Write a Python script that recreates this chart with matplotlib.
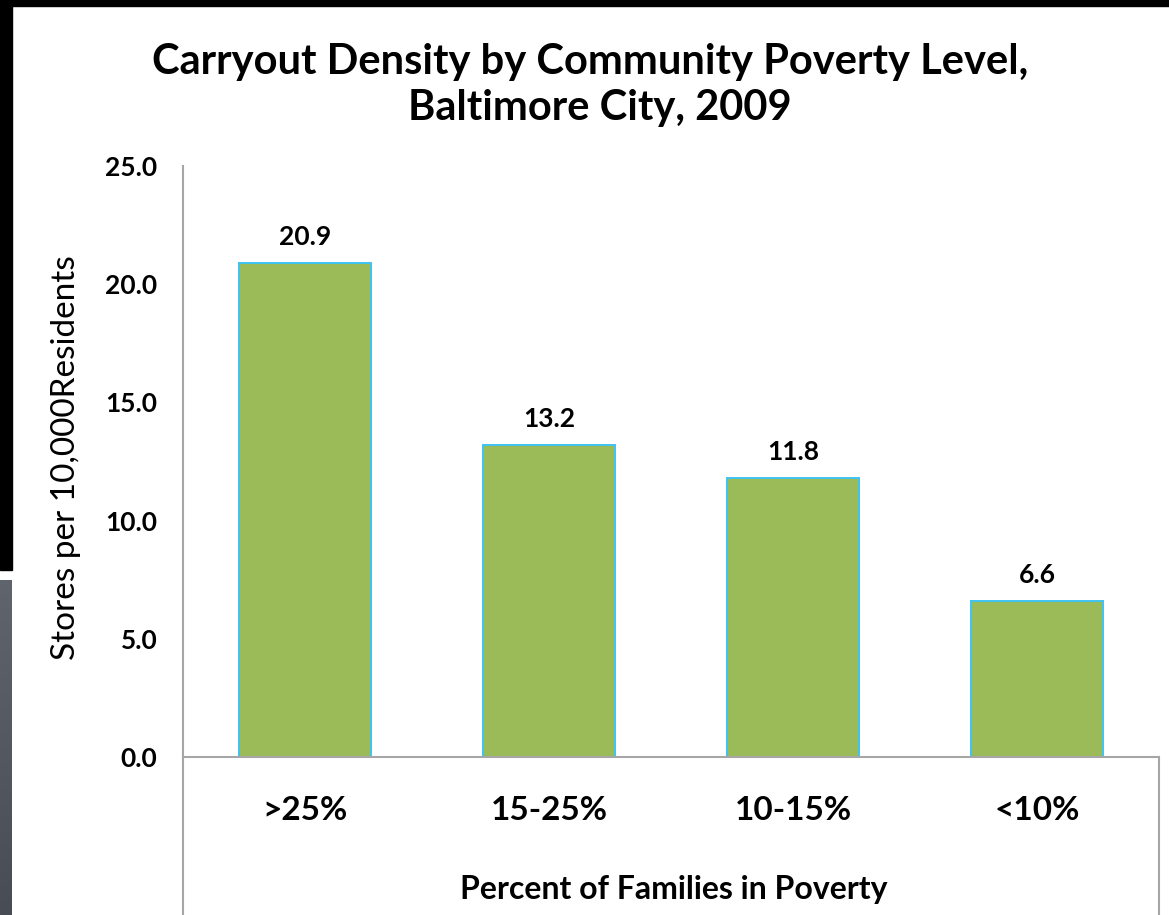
import numpy as np
import matplotlib
matplotlib.use("Agg")
import matplotlib.pyplot as plt
from matplotlib.patches import Rectangle
from matplotlib.lines import Line2D
from matplotlib.colors import LinearSegmentedColormap

categories = [">25%", "15-25%", "10-15%", "<10%"]
stores_per_10k = [20.9, 13.2, 11.8, 6.6]
y_ticks = [0.0, 5.0, 10.0, 15.0, 20.0, 25.0]

W, H = 1169, 915
fig = plt.figure(figsize=(W / 100, H / 100), dpi=100)
plt.rcParams["font.family"] = ["Lato", "DejaVu Sans"]


def fx(px):
    return px / W


def fy(py):
    return 1 - py / H


# slide frame: black bands and gray strip
fig.patches.append(Rectangle((0, fy(6)), 1, 6 / H, transform=fig.transFigure,
                             color="black", zorder=0))
fig.patches.append(Rectangle((0, fy(570)), fx(12), 570 / H, transform=fig.transFigure,
                             color="black", zorder=0))
gax = fig.add_axes([0, 0, fx(12), fy(580)])
grad = np.linspace(0, 1, 256).reshape(-1, 1)
cmap = LinearSegmentedColormap.from_list("strip", ["#5f646d", "#474c55"])
gax.imshow(grad, aspect="auto", cmap=cmap, extent=[0, 1, 0, 1], origin="upper")
gax.axis("off")

left, right, top, zero = 183, 1159, 166, 757
ax = fig.add_axes([fx(left), fy(zero), fx(right) - fx(left), fy(top) - fy(zero)])
x = np.arange(len(categories))
ax.bar(x, stores_per_10k, width=0.54, color="#9bbb59",
       edgecolor="#3ec3f2", linewidth=1.4, zorder=3)
ax.set_xlim(-0.5, len(categories) - 0.5)
ax.set_ylim(0, 25)
ax.set_yticks(y_ticks)
ax.set_yticklabels([f"{v:.1f}" for v in y_ticks], fontsize=19, fontweight="bold")
ax.tick_params(axis="y", length=0, pad=18.5)
ax.set_xticks([])
for s in ["top", "right", "bottom"]:
    ax.spines[s].set_visible(False)
ax.spines["left"].set_color("#a6a6a6")
ax.spines["left"].set_linewidth(1.5)

for xi, v in zip(x, stores_per_10k):
    ax.annotate(f"{v:.1f}", (xi, v), xytext=(0, 19), textcoords="offset points",
                ha="center", va="center", fontsize=19, fontweight="bold")

# category axis box below the zero line
line_kw = dict(transform=fig.transFigure, color="#a6a6a6", linewidth=1.5)
fig.lines.append(Line2D([fx(left), fx(right)], [fy(zero), fy(zero)], **line_kw))
fig.lines.append(Line2D([fx(left), fx(left)], [fy(zero), 0], **line_kw))
fig.lines.append(Line2D([fx(right), fx(right)], [fy(zero), 0], **line_kw))

for xi, c in zip(x, categories):
    px = left + (xi + 0.5) * (right - left) / len(categories)
    fig.text(fx(px), fy(811), c, ha="center", va="center",
             fontsize=24, fontweight="bold")

fig.text(fx(674), fy(889), "Percent of Families in Poverty", ha="center",
         va="center", fontsize=23, fontweight="bold")
fig.text(fx(66), fy(458), "Stores per 10,000Residents", ha="center",
         va="center", rotation=90, fontsize=24)

fig.text(fx(590), fy(62), "Carryout Density by Community Poverty Level,",
         ha="center", va="center", fontsize=30, fontweight="bold")
fig.text(fx(600), fy(108), "Baltimore City, 2009",
         ha="center", va="center", fontsize=30, fontweight="bold")

fig.savefig("out.png", dpi=100)
